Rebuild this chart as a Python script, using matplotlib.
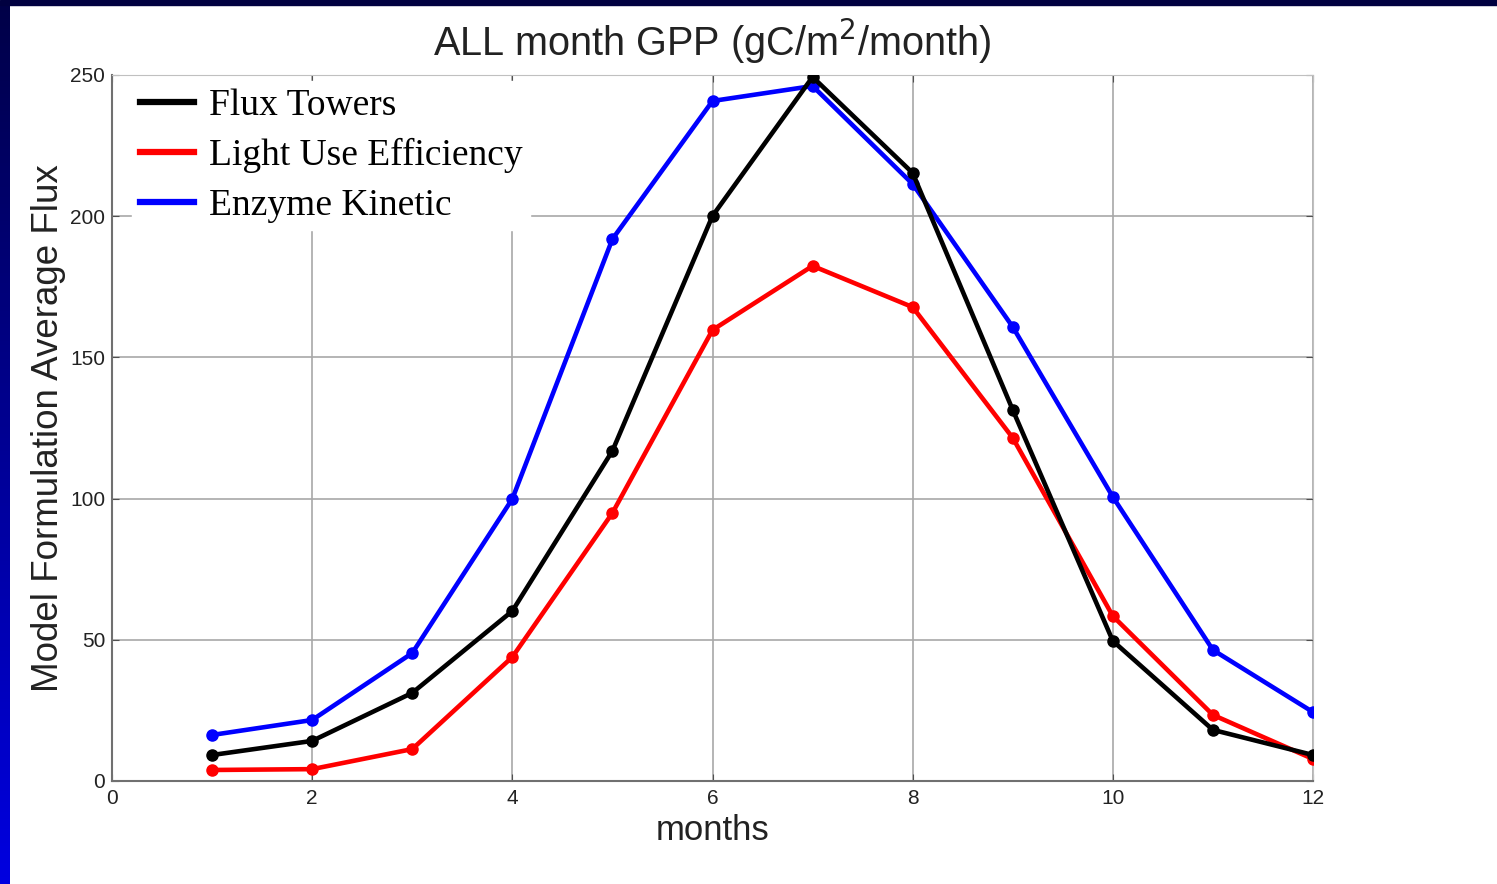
import numpy as np
import matplotlib
matplotlib.use('Agg')
from matplotlib import pyplot as plt
from matplotlib.patches import Rectangle
from matplotlib.colors import LinearSegmentedColormap

months = [1, 2, 3, 4, 5, 6, 7, 8, 9, 10, 11, 12]
flux_towers = [9.2, 14.2, 31.2, 60.2, 116.9, 200.1, 249.3, 215.3, 131.4, 49.6, 18.1, 9.2]
light_use = [3.9, 4.2, 11.3, 43.9, 94.9, 159.7, 182.4, 167.8, 121.5, 58.4, 23.4, 7.8]
enzyme_kin = [16.3, 21.6, 45.3, 99.9, 191.9, 240.8, 246.1, 211.4, 160.8, 100.6, 46.4, 24.4]

xticks = [0, 2, 4, 6, 8, 10, 12]
yticks = [0, 50, 100, 150, 200, 250]

fig = plt.figure(figsize=(14.97, 8.84), dpi=100, facecolor='white')

# dunkel blaa ramme oppe og til venstre
fig.patches.append(Rectangle((0, 1 - 5/884), 1, 5/884, transform=fig.transFigure,
                             color='#000040', zorder=0))
bg = fig.add_axes([0, 0, 10/1497, 1 - 5/884])
cmap = LinearSegmentedColormap.from_list('kant', ['#0000e0', '#000048'])
bg.imshow(np.linspace(0, 1, 256)[:, None], aspect='auto', cmap=cmap, origin='lower')
bg.axis('off')

ax = fig.add_axes([112/1497, 103/884, (1313-112)/1497, (781-75)/884])
ax.plot(months, flux_towers, color='black', lw=3.3, marker='o', ms=8, label='Flux Towers', zorder=5)
ax.plot(months, light_use, color='#ff0000', lw=3.3, marker='o', ms=8, label='Light Use Efficiency', zorder=3)
ax.plot(months, enzyme_kin, color='#0000ff', lw=3.3, marker='o', ms=8, label='Enzyme Kinetic', zorder=4)

ax.set_xlim(0, 12)
ax.set_ylim(0, 250)
ax.set_xticks(xticks)
ax.set_yticks(yticks)
ax.grid(True, color='#a8a8a8', lw=1.2)
ax.set_axisbelow(True)
ax.tick_params(direction='in', length=5, color='#505050', labelsize=15,
               top=True, right=True, labelcolor='#222222')
ax.tick_params(axis='x', pad=6)
ax.tick_params(axis='y', pad=5)
for s in ['top', 'right']:
    ax.spines[s].set_color('#c0c0c0')
for s in ['left', 'bottom']:
    ax.spines[s].set_color('#707070')
    ax.spines[s].set_linewidth(1.5)

ax.set_title('ALL month GPP (gC/m$^2$/month)', fontsize=28.5, family='Liberation Sans',
             color='#222222', pad=14)
ax.set_xlabel('months', fontsize=25, family='Liberation Sans', color='#222222', labelpad=4)
ax.set_ylabel('Model Formulation Average Flux', fontsize=26.5, family='Liberation Sans',
              color='#222222', labelpad=3)
for t in ax.get_xticklabels() + ax.get_yticklabels():
    t.set_family('Liberation Sans')

leg = ax.legend(loc='upper left', bbox_to_anchor=(0.0167, 0.9915),
                prop={'family': 'Liberation Serif', 'size': 27},
                frameon=True, fancybox=False, edgecolor='white', facecolor='white',
                framealpha=1, handlelength=1.45, handletextpad=0.4, labelspacing=0.4,
                borderaxespad=0, borderpad=0.2)
for line in leg.get_lines():
    line.set_linewidth(4.5)
    line.set_marker('')

plt.savefig('out.png', dpi=100, facecolor=fig.get_facecolor())
